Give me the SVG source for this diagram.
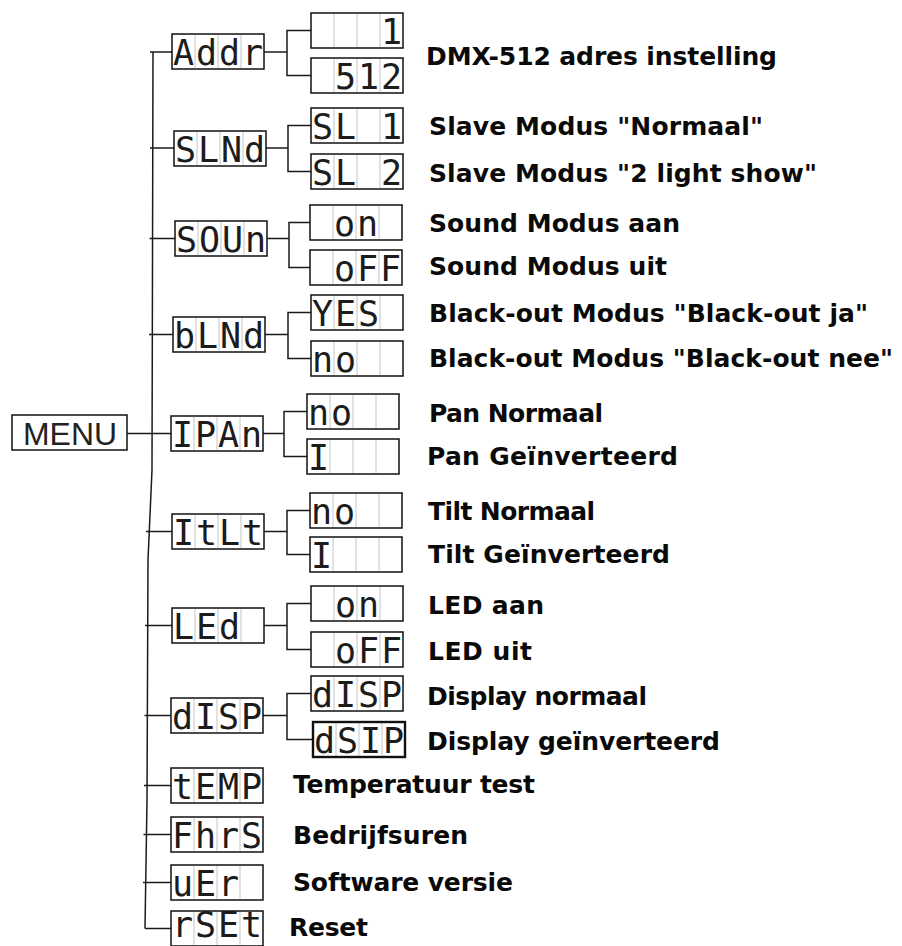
<svg xmlns="http://www.w3.org/2000/svg" xmlns:xlink="http://www.w3.org/1999/xlink" width="902" height="946" viewBox="0 0 902 946">
<style>
.ln{fill:none;stroke:#1a1a1a;stroke-width:1.5}
.seg{font-family:"DejaVu Sans Mono","Liberation Mono",monospace;font-size:35px;fill:#1c1c1c;text-anchor:middle}
.lbl{font-family:"DejaVu Sans","Verdana",sans-serif;font-weight:bold;font-size:25px;fill:#0a0a0a}
.menu{font-family:"Liberation Sans","Arial",sans-serif;font-size:31px;fill:#222}
</style>
<defs>
<g id="box">
<rect x="0" y="0" width="92" height="35" fill="#fff" stroke="#111" stroke-width="1.5"/>
<path d="M23 1V34M46 1V34M69 1V34" stroke="#c4c4c4" stroke-width="1"/>
</g>
</defs>
<rect width="902" height="946" fill="#fff"/>
<g id="connectors" class="ln">
<path d="M153 52L152 470L148 560L147 800L145 928.5"/>
<path d="M150 52H172M150 148H174M149.5 238.5H175M149 334.5H173M127 433.5H171M146 531.5H172M145 625.5H172M144.5 715.5H171M144 785.5H171M143.5 834.5H171M143 882.5H171M145 928.5H171"/>
<path d="M264 52H287M311 30.5H287V75.5H311"/>
<path d="M266 148H288M311 125.5H288V171.5H311"/>
<path d="M267 238.5H289M310 222.5H289V267.5H310"/>
<path d="M265 334.5H288M311 312.5H288V358.5H311"/>
<path d="M263 433.5H284M307 411.5H284V456.5H307"/>
<path d="M264 531.5H287M310 510.5H287V554.5H310"/>
<path d="M264 625.5H287M311 603.5H287V649.5H311"/>
<path d="M263 715.5H287M311 693.5H287V739.5H313"/>
</g>
<g id="menu">
<rect x="12" y="415" width="115" height="35" fill="#fff" stroke="#111" stroke-width="1.5"/>
<text class="menu" x="23" y="445" textLength="94" lengthAdjust="spacingAndGlyphs">MENU</text>
</g>
<g id="n-addr" transform="translate(172,34)"><use xlink:href="#box"/><text class="seg" x="11.5 34.5 57.5 80.5" y="31">Addr</text></g>
<g id="n-slnd" transform="translate(174,131)"><use xlink:href="#box"/><text class="seg" x="11.5 34.5 57.5 80.5" y="31">SLNd</text></g>
<g id="n-soun" transform="translate(175,221)"><use xlink:href="#box"/><text class="seg" x="11.5 34.5 57.5 80.5" y="31">SOUn</text></g>
<g id="n-blnd" transform="translate(173,317)"><use xlink:href="#box"/><text class="seg" x="11.5 34.5 57.5 80.5" y="31">bLNd</text></g>
<g id="n-ipan" transform="translate(171,416)"><use xlink:href="#box"/><text class="seg" x="11.5 34.5 57.5 80.5" y="31">IPAn</text></g>
<g id="n-itlt" transform="translate(172,514)"><use xlink:href="#box"/><text class="seg" x="11.5 34.5 57.5 80.5" y="31">ItLt</text></g>
<g id="n-led" transform="translate(172,608)"><use xlink:href="#box"/><text class="seg" x="11.5 34.5 57.5" y="31">LEd</text></g>
<g id="n-disp" transform="translate(171,698)"><use xlink:href="#box"/><text class="seg" x="11.5 34.5 57.5 80.5" y="31">dISP</text></g>
<g id="n-temp" transform="translate(171,768)"><use xlink:href="#box"/><text class="seg" x="11.5 34.5 57.5 80.5" y="31">tEMP</text></g>
<g id="n-fhrs" transform="translate(171,817)"><use xlink:href="#box"/><text class="seg" x="11.5 34.5 57.5 80.5" y="31">FhrS</text></g>
<g id="n-uer" transform="translate(171,865)"><use xlink:href="#box"/><text class="seg" x="11.5 34.5 57.5" y="31">uEr</text></g>
<g id="n-rset" transform="translate(171,911)"><use xlink:href="#box"/><text class="seg" x="11.5 34.5 57.5 80.5" y="26" font-size="30">rSEt</text></g>
<g id="o-addr-1" transform="translate(311,13)"><use xlink:href="#box"/><text class="seg" x="80.5" y="31">1</text></g>
<g id="o-addr-512" transform="translate(311,58)"><use xlink:href="#box"/><text class="seg" x="34.5 57.5 80.5" y="31">512</text></g>
<g id="o-sl1" transform="translate(311,108)"><use xlink:href="#box"/><text class="seg" x="11.5 34.5 80.5" y="31">SL1</text></g>
<g id="o-sl2" transform="translate(311,154)"><use xlink:href="#box"/><text class="seg" x="11.5 34.5 80.5" y="31">SL2</text></g>
<g id="o-sound-on" transform="translate(310,205)"><use xlink:href="#box"/><text class="seg" x="34.5 57.5" y="31">on</text></g>
<g id="o-sound-off" transform="translate(310,250)"><use xlink:href="#box"/><text class="seg" x="34.5 57.5 80.5" y="31">oFF</text></g>
<g id="o-bl-yes" transform="translate(311,295)"><use xlink:href="#box"/><text class="seg" x="11.5 34.5 57.5" y="31">YES</text></g>
<g id="o-bl-no" transform="translate(311,341)"><use xlink:href="#box"/><text class="seg" x="11.5 34.5" y="31">no</text></g>
<g id="o-pan-no" transform="translate(307,394)"><use xlink:href="#box"/><text class="seg" x="11.5 34.5" y="31">no</text></g>
<g id="o-pan-inv" transform="translate(307,439)"><use xlink:href="#box"/><text class="seg" x="11.5" y="31">I</text></g>
<g id="o-tilt-no" transform="translate(310,493)"><use xlink:href="#box"/><text class="seg" x="11.5 34.5" y="31">no</text></g>
<g id="o-tilt-inv" transform="translate(310,537)"><use xlink:href="#box"/><text class="seg" x="11.5" y="31">I</text></g>
<g id="o-led-on" transform="translate(311,586)"><use xlink:href="#box"/><text class="seg" x="34.5 57.5" y="31">on</text></g>
<g id="o-led-off" transform="translate(311,632)"><use xlink:href="#box"/><text class="seg" x="34.5 57.5 80.5" y="31">oFF</text></g>
<g id="o-disp-n" transform="translate(311,676)"><use xlink:href="#box"/><text class="seg" x="11.5 34.5 57.5 80.5" y="31">dISP</text></g>
<g id="o-disp-i" transform="translate(313,722)"><use xlink:href="#box"/><rect x="0" y="0" width="92" height="35" fill="none" stroke="#111" stroke-width="2.4"/><text class="seg" x="11.5 34.5 57.5 80.5" y="31">dSIP</text></g>
<g id="labels" class="lbl">
<text x="426" y="65" textLength="351" lengthAdjust="spacing">DMX-512 adres instelling</text>
<text x="429" y="135" textLength="334" lengthAdjust="spacing">Slave Modus "Normaal"</text>
<text x="429" y="182" textLength="388" lengthAdjust="spacing">Slave Modus "2 light show"</text>
<text x="429" y="232" textLength="251" lengthAdjust="spacing">Sound Modus aan</text>
<text x="429" y="275" textLength="238" lengthAdjust="spacing">Sound Modus uit</text>
<text x="429" y="322" textLength="439" lengthAdjust="spacing">Black-out Modus "Black-out ja"</text>
<text x="429" y="367" textLength="464" lengthAdjust="spacing">Black-out Modus "Black-out nee"</text>
<text x="429" y="422" textLength="174" lengthAdjust="spacing">Pan Normaal</text>
<text x="427" y="465" textLength="251" lengthAdjust="spacing">Pan Geïnverteerd</text>
<text x="428" y="520" textLength="167" lengthAdjust="spacing">Tilt Normaal</text>
<text x="428" y="563" textLength="242" lengthAdjust="spacing">Tilt Geïnverteerd</text>
<text x="428" y="614" textLength="116" lengthAdjust="spacing">LED aan</text>
<text x="428" y="660" textLength="104" lengthAdjust="spacing">LED uit</text>
<text x="427" y="705" textLength="220" lengthAdjust="spacing">Display normaal</text>
<text x="427" y="750" textLength="293" lengthAdjust="spacing">Display geïnverteerd</text>
<text x="293" y="793" textLength="242" lengthAdjust="spacing">Temperatuur test</text>
<text x="293" y="844" textLength="175" lengthAdjust="spacing">Bedrijfsuren</text>
<text x="293" y="891" textLength="220" lengthAdjust="spacing">Software versie</text>
<text x="289" y="936" textLength="79" lengthAdjust="spacing">Reset</text>
</g>
</svg>
